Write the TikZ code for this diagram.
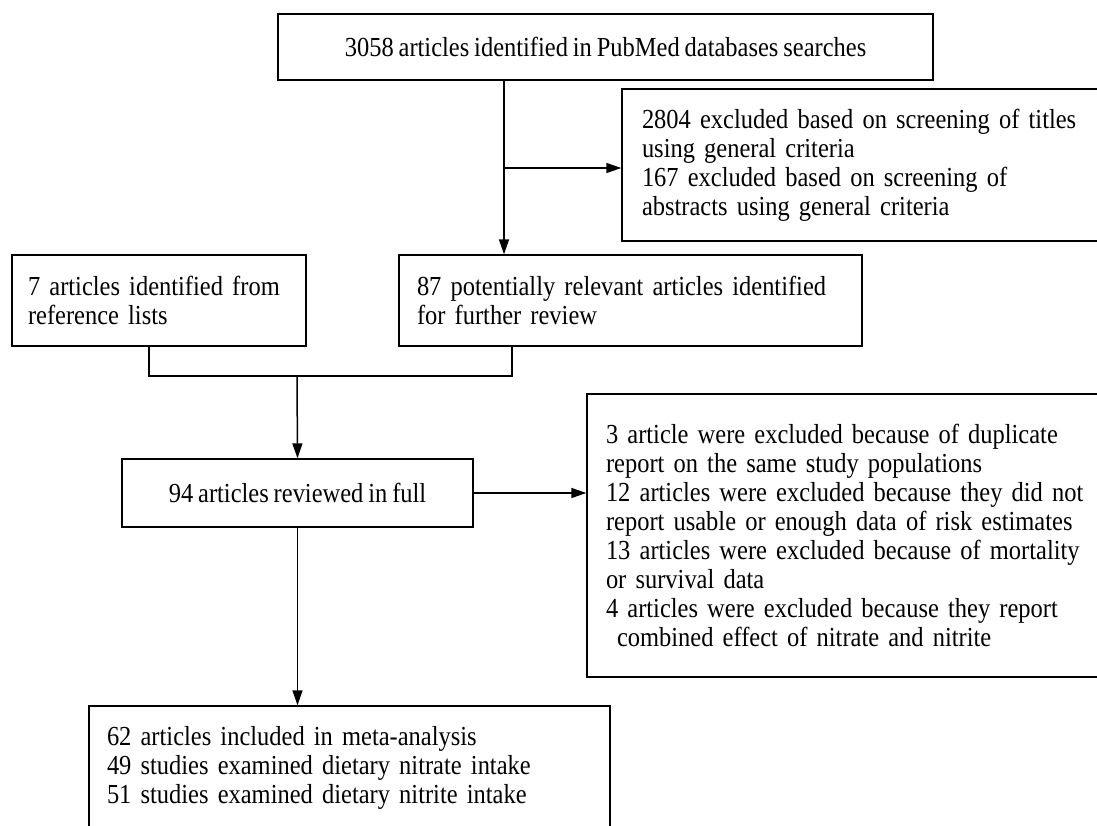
\documentclass[tikz,border=0pt]{standalone}
\usepackage{fontspec}
\setmainfont{Liberation Serif}[FakeStretch=0.89, WordSpace=0.8]
\usetikzlibrary{arrows.meta}

\tikzset{
  box/.style={draw, line width=1.4pt, rectangle, inner ysep=0pt},
  flow/.style={line width=1.5pt, -{Triangle[length=15pt,width=10pt]}},
  link/.style={line width=1.5pt}
}

\begin{document}
\begin{tikzpicture}[x=1pt,y=-1pt,font=\fontsize{27.5}{29}\selectfont]
  \clip (0,0) rectangle (1097,825);
  \fill[white] (0,0) rectangle (1097,825);

  \node[box, minimum width=655, minimum height=66, align=center] (search) at (605.5,47)
    {3058 articles identified in PubMed databases searches};
  \node[box, minimum width=560, minimum height=152, inner xsep=20pt, text width=520pt, align=left] (excl1) at (902,165)
    {2804 excluded based on screening of titles\\ using general criteria\\ 167 excluded based on screening of\\ abstracts using general criteria};
  \node[box, minimum width=294, minimum height=91, inner xsep=16pt, text width=262pt, align=left] (refs) at (159,300.5)
    {7 articles identified from\\ reference lists};
  \node[box, minimum width=463, minimum height=91, inner xsep=18pt, text width=427pt, align=left] (relevant) at (630.5,300.5)
    {87 potentially relevant articles identified\\ for further review};
  \node[box, minimum width=351, minimum height=68, align=center] (review) at (297.5,493)
    {94 articles reviewed in full};
  \node[box, minimum width=620, minimum height=283, inner xsep=19pt, text width=582pt, align=left] (excl2) at (897,535.5)
    {3 article were excluded because of duplicate\\ report on the same study populations\\
     12 articles were excluded because they did not\\ report usable or enough data of risk estimates\\
     13 articles were excluded because of mortality\\ or survival data\\
     4 articles were excluded because they report\\ \hspace*{11pt}combined effect of nitrate and nitrite};
  \node[box, minimum width=521, minimum height=124, inner xsep=18pt, text width=485pt, align=left] (final) at (349.5,768)
    {62 articles included in meta-analysis\\ 49 studies examined dietary nitrate intake\\ 51 studies examined dietary nitrite intake};

  % split after the database search
  \coordinate (split) at (504,168);
  \coordinate (merge) at (297,376);
  \coordinate (refsx) at (149,0);
  \coordinate (relx) at (512,0);
  \draw[flow] (search.south -| split) -- (relevant.north -| split);
  \draw[flow] (split) -- (excl1.west |- split);

  % merge of the two sources
  \draw[link] (refs.south -| refsx) |- (merge) -| (relevant.south -| relx);
  \draw[flow] (merge) -- (review.north);
  \draw[flow] (review.east) -- (excl2.west |- review.east);
  \draw[flow] (review.south) -- (final.north -| review.south);
\end{tikzpicture}
\end{document}
